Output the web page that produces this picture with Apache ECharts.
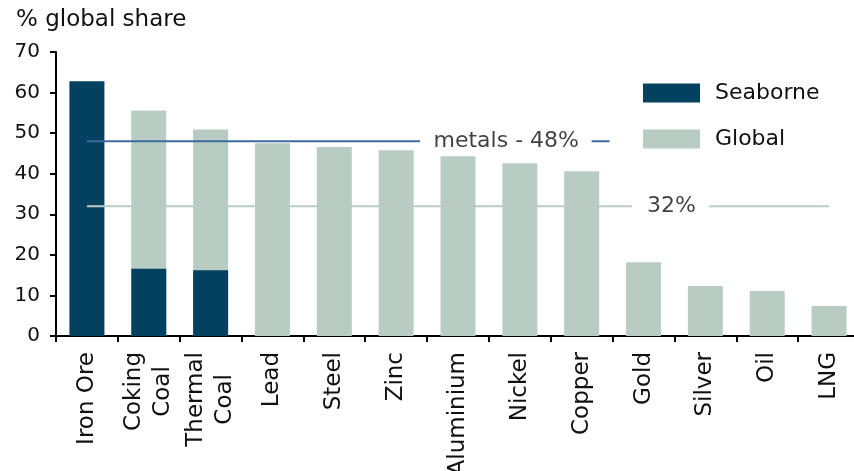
<!DOCTYPE html>
<html>
<head>
<meta charset="utf-8">
<script src="https://cdn.jsdelivr.net/npm/echarts@6/dist/echarts.min.js"></script>
<style>
  html, body { margin: 0; padding: 0; background: #fff; }
  #chart { width: 854px; height: 471px; }
</style>
</head>
<body>
<div id="chart"></div>
<script>
// Commodities and their share of global production that is traded
const categories = ['Iron Ore', 'Coking\nCoal', 'Thermal\nCoal', 'Lead', 'Steel', 'Zinc',
  'Aluminium', 'Nickel', 'Copper', 'Gold', 'Silver', 'Oil', 'LNG'];
const seaborne = [62.8, 16.6, 16.2, null, null, null, null, null, null, null, null, null, null];
const global = [null, 55.6, 50.9, 47.5, 46.6, 45.8, 44.3, 42.6, 40.6, 18.2, 12.3, 11.1, 7.4];
const yTicks = [0, 10, 20, 30, 40, 50, 60, 70];

// Average reference levels
const metalsAvg = 48;
const overallAvg = 32;

const FONT = 'DejaVu Sans';
const DARK = '#04405f';
const LIGHT = '#b8ccc4';
const BLUE = '#3d6aa0';

// Reference line pieces, placed along a hidden 0..13 axis that spans the category band
function segment(from, to, y, color, width) {
  return {
    type: 'line', xAxisIndex: 1, yAxisIndex: 0, silent: true,
    symbol: 'none', data: [[from, y], [to, y]],
    lineStyle: { color: color, width: width }, z: 3
  };
}

const chart = echarts.init(document.getElementById('chart'), null, { renderer: 'canvas' });
chart.setOption({
  animation: false,
  backgroundColor: '#ffffff',
  textStyle: { fontFamily: FONT },
  title: {
    text: '% global share',
    left: 11, top: 4,
    textStyle: { fontFamily: FONT, fontSize: 23, fontWeight: 'normal', color: '#111' }
  },
  legend: {
    data: ['Seaborne', 'Global'],
    orient: 'vertical',
    left: 638, top: 77,
    itemWidth: 57, itemHeight: 19, itemGap: 24,
    icon: 'rect',
    textStyle: { fontFamily: FONT, fontSize: 22, color: '#111', padding: [0, 0, 0, 10] }
  },
  grid: {
    left: 56, width: 804, top: 52, bottom: 135,
    containLabel: false, outerBoundsMode: 'none'
  },
  xAxis: [{
    type: 'category',
    data: categories,
    axisLine: { lineStyle: { color: '#000', width: 2 } },
    axisTick: { show: true, length: 6, lineStyle: { color: '#000', width: 2 } },
    axisLabel: {
      rotate: 90, margin: 16, color: '#111', fontFamily: FONT, fontSize: 23,
      interval: 0, lineHeight: 29,
      formatter: v => v.split('\n').map(s => '{c|' + s + '}').join('\n'),
      rich: { c: { fontFamily: FONT, fontSize: 23, color: '#111', align: 'center', lineHeight: 29 } }
    },
    splitLine: { show: false }
  }, {
    type: 'value', min: 0, max: 13, show: false
  }],
  yAxis: {
    type: 'value', min: yTicks[0], max: yTicks[yTicks.length - 1], interval: 10,
    axisLine: { show: true, lineStyle: { color: '#000', width: 2 } },
    axisTick: { show: true, length: 6, lineStyle: { color: '#000', width: 2 } },
    axisLabel: { color: '#111', fontFamily: FONT, fontSize: 20, margin: 16 },
    splitLine: { show: false }
  },
  series: [
    {
      name: 'Global', type: 'bar', data: global, barWidth: 35, barGap: '-100%',
      itemStyle: { color: LIGHT }, z: 2
    },
    {
      name: 'Seaborne', type: 'bar', data: seaborne, barWidth: 35, barGap: '-100%',
      itemStyle: { color: DARK }, z: 2
    },
    segment(0.5, 5.885, metalsAvg, BLUE, 2),
    segment(8.66, 8.95, metalsAvg, BLUE, 2),
    segment(0.5, 9.31, overallAvg, LIGHT, 2),
    segment(10.56, 12.5, overallAvg, LIGHT, 2),
    {
      type: 'scatter', xAxisIndex: 1, yAxisIndex: 0, silent: true,
      symbolSize: 1, itemStyle: { color: 'rgba(0,0,0,0)' },
      data: [
        { value: [7.28, metalsAvg], text: 'metals - ' + metalsAvg + '%' },
        { value: [9.95, overallAvg], text: overallAvg + '%' }
      ],
      label: {
        show: true, position: 'inside', color: '#111', fontFamily: FONT, fontSize: 22,
        formatter: p => p.data.text
      },
      z: 4
    }
  ]
});
</script>
</body>
</html>
